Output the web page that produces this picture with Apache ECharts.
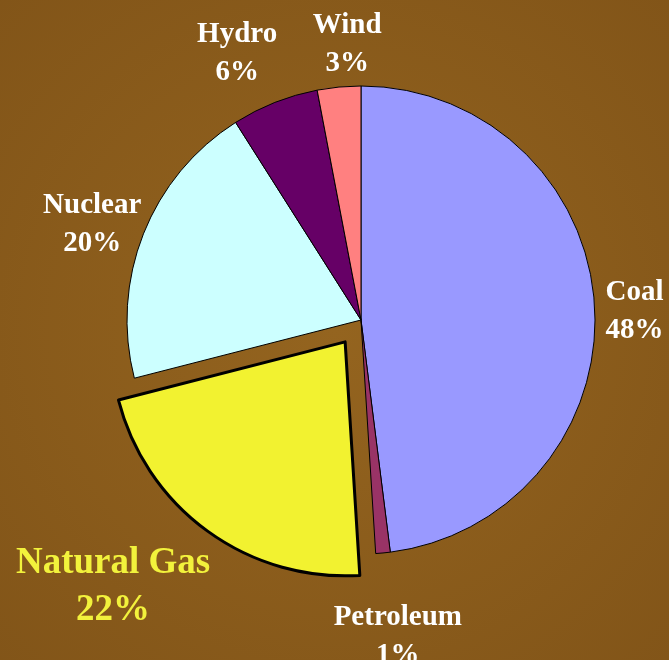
<!DOCTYPE html>
<html>
<head>
<meta charset="utf-8">
<script src="https://cdn.jsdelivr.net/npm/echarts@6/dist/echarts.min.js"></script>
<style>
  html, body { margin: 0; padding: 0; background: #8a5b1d; }
  #chart { width: 669px; height: 660px; }
</style>
</head>
<body>
<div id="chart"></div>
<script>
{
    var dom = document.querySelector('#chart');
    var myChart = echarts.init(dom);

    // 发电来源占比
    const sources = ['Coal', 'Petroleum', 'Natural Gas', 'Nuclear', 'Hydro', 'Wind'];
    const shares = [48, 1, 22, 20, 6, 3];
    const colors = ['#9999ff', '#993366', '#f2f230', '#ccffff', '#660066', '#ff8080'];

    // label nudges after the default outside placement
    const labelShift = [[-5, 9], [6, 44], [-66, 23], [-9, 5], [-18, -12], [17, -3]];

    const data = sources.map((name, i) => {
        const item = {
            name: name,
            value: shares[i],
            itemStyle: { color: colors[i], borderColor: '#000', borderWidth: 1 }
        };
        if (name === 'Natural Gas') {
            item.selected = true;
            item.itemStyle.borderWidth = 3;
            item.label = { color: '#f2f23c', fontSize: 37, lineHeight: 47 };
        }
        return item;
    });

    const option = {
        backgroundColor: {
            type: 'radial', x: 0.5, y: 0.5, r: 0.75,
            colorStops: [
                { offset: 0, color: '#94641f' },
                { offset: 1, color: '#815418' }
            ]
        },
        animation: false,
        series: [
            {
                type: 'pie',
                center: [361, 320],
                radius: 234,
                startAngle: 90,
                clockwise: true,
                selectedMode: 'single',
                selectedOffset: 27,
                avoidLabelOverlap: false,
                label: {
                    show: true,
                    position: 'outside',
                    formatter: '{b}\n{c}%',
                    color: '#fff',
                    fontFamily: 'Liberation Serif',
                    fontWeight: 'bold',
                    fontSize: 29,
                    lineHeight: 38
                },
                labelLine: { show: false, length: 40, length2: 0 },
                labelLayout: function (params) {
                    const s = labelShift[params.dataIndex];
                    return { dx: s[0], dy: s[1], align: 'center', verticalAlign: 'middle' };
                },
                emphasis: { disabled: true },
                data: data
            }
        ]
    };
    myChart.setOption(option);
}
</script>
</body>
</html>
